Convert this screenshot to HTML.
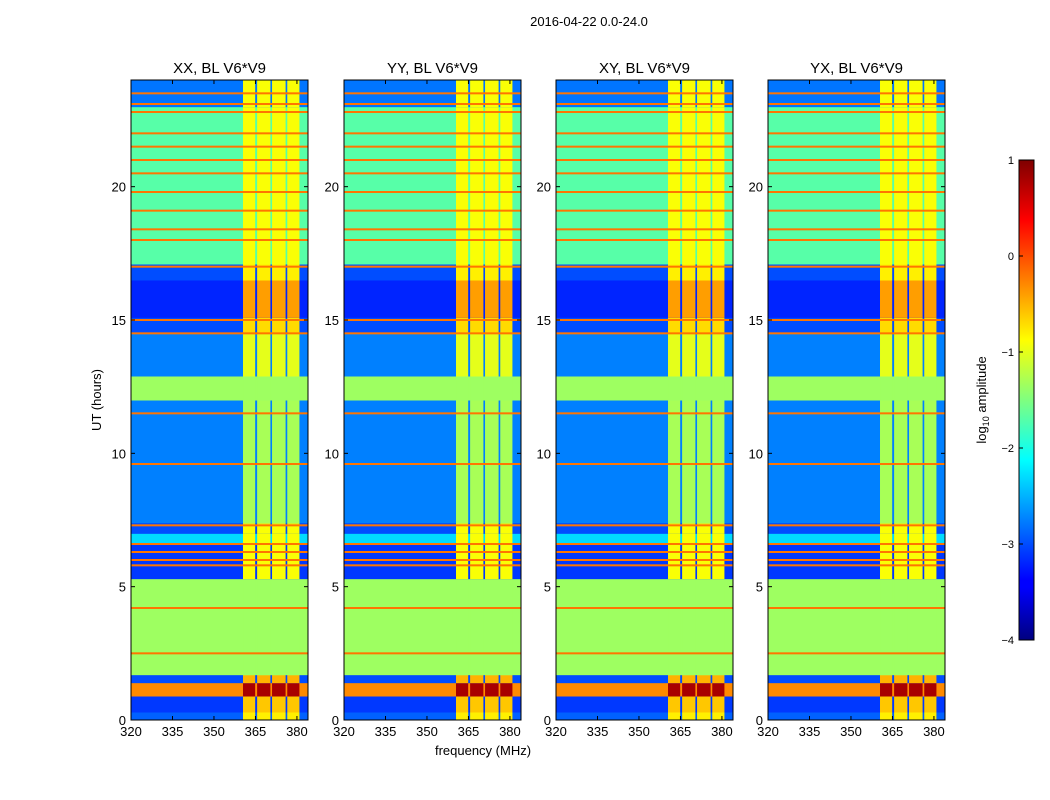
<!DOCTYPE html>
<html><head><meta charset="utf-8"><style>
body{margin:0;background:#fff;width:1050px;height:800px;overflow:hidden}
svg{display:block;font-family:"Liberation Sans",sans-serif}
</style></head><body>
<svg id="fig" width="1050" height="800">
<text x="589" y="26" font-size="13" text-anchor="middle">2016-04-22 0.0-24.0</text>
<text x="483" y="755" font-size="13" text-anchor="middle">frequency (MHz)</text>
<text transform="translate(101,400) rotate(-90)" font-size="13" text-anchor="middle">UT (hours)</text>
<defs><linearGradient id="jetg" x1="0" y1="1" x2="0" y2="0">
<stop offset="0" stop-color="#00007f"/><stop offset="0.11" stop-color="#0000ff"/><stop offset="0.125" stop-color="#0000ff"/>
<stop offset="0.375" stop-color="#00ffff"/><stop offset="0.625" stop-color="#ffff00"/><stop offset="0.875" stop-color="#ff0000"/><stop offset="1" stop-color="#7f0000"/>
</linearGradient></defs>
<g id="cbar">
<rect x="1019" y="160" width="15" height="480" fill="url(#jetg)" stroke="#000"/>
</g>
<text transform="translate(986,400) rotate(-90)" font-size="13" text-anchor="middle">log<tspan font-size="9" dy="3">10</tspan><tspan dy="-3"> amplitude</tspan></text>
</svg>
<script>
const bandStart=[0,0.3,0.9,1.4,1.7,1.8,5.3,6.6,7.0,7.4,12.0,12.9,14.5,15.1,16.5,17.1,23.0];
const bandEnd=[0.3,0.9,1.4,1.7,1.8,5.3,6.6,7.0,7.4,12.0,12.9,14.5,15.1,16.5,17.1,23.0,24];
const bandLevel=[-2.9,-3.1,-0.3,-3.0,-1.35,-1.35,-3.1,-2.3,-3.0,-2.75,-1.35,-2.75,-3.0,-3.2,-3.0,-1.7,-2.8];
const rfiLevel=[-0.8,-0.6,0.8,-0.5,-1.35,-1.35,-0.9,-0.9,-0.9,-1.3,-1.35,-1.0,-0.7,-0.4,-0.8,-0.9,-0.9];
const lineTimes=[2.5,4.2,5.8,6.0,6.3,6.6,7.3,9.6,11.5,14.5,15.0,17.0,18.0,18.4,19.1,19.8,20.5,21.0,21.5,22.0,22.8,23.1,23.5];
const lineLevels=[-0.2,-0.2,-0.2,-0.2,-0.2,-0.2,-0.2,-0.2,-0.2,-0.2,-0.2,-0.2,-0.2,-0.2,-0.2,-0.2,-0.2,-0.2,-0.2,-0.2,-0.2,-0.2,-0.2];
const rfiColStart=[360.5,365.6,371.0,376.5];
const rfiColEnd=[364.9,370.4,375.9,380.9];
const panelTitles=["XX, BL V6*V9","YY, BL V6*V9","XY, BL V6*V9","YX, BL V6*V9"];
const xTicks=[320,335,350,365,380];
const yTicks=[0,5,10,15,20];
const cbTicks=[1,0,-1,-2,-3,-4];
const cbLabels=["1","0","\u22121","\u22122","\u22123","\u22124"];
const panelX=[131,344,556,768];
const PW=177,PT=80,PH=640,FMIN=320,FMAX=384,TMAX=24;
const NS="http://www.w3.org/2000/svg";
const svg=document.getElementById('fig');
function jet(v){let t=(v+4)/5;t=Math.max(0,Math.min(1,t));
 const c=x=>Math.round(255*Math.max(0,Math.min(1,x)));
 const r=c(Math.min(4*t-1.5,-4*t+4.5)),g=c(Math.min(4*t-0.5,-4*t+3.5)),b=c(Math.min(4*t+0.5,-4*t+2.5));
 return `rgb(${r},${g},${b})`;}
function el(tag,a,parent){const e=document.createElementNS(NS,tag);for(const k in a)e.setAttribute(k,a[k]);(parent||svg).appendChild(e);return e;}
const ys=t=>PT+PH-(t/TMAX)*PH;
panelTitles.forEach((title,p)=>{
 const x0=panelX[p];const xs=f=>x0+(f-FMIN)/(FMAX-FMIN)*PW;
 const g=el('g',{});
 
 
 bandStart.forEach((s,i)=>{
  const r=el('rect',{x:x0,y:ys(bandEnd[i]),width:PW,height:ys(s)-ys(bandEnd[i])+0.5,fill:jet(bandLevel[i])},g);
  
  
  rfiColStart.forEach((cs,j)=>{
   const rc=el('rect',{x:xs(cs),y:ys(bandEnd[i]),width:xs(rfiColEnd[j])-xs(cs),height:ys(s)-ys(bandEnd[i])+0.5,fill:jet(rfiLevel[i])},g);
   
   
  });
 });
 lineTimes.forEach((t,i)=>{
  const l=el('rect',{x:x0,y:ys(t)-1,width:PW,height:2,fill:jet(lineLevels[i])},g);
  
  
 });
 el('rect',{x:x0,y:PT,width:PW,height:PH,fill:'none',stroke:'#000','stroke-width':1},g);
 const tt=el('text',{x:x0+PW/2,y:PT-7,'font-size':15,'text-anchor':'middle'},g);tt.textContent=title;
 
 
 xTicks.forEach(f=>{const x=xs(f);
  el('line',{x1:x,x2:x,y1:PT+PH,y2:PT+PH-4,stroke:'#000'},g);
  el('line',{x1:x,x2:x,y1:PT,y2:PT+4,stroke:'#000'},g);
  const t=el('text',{x:x,y:PT+PH+16,'font-size':13,'text-anchor':'middle'},g);t.textContent=f;
  
  });
 yTicks.forEach(v=>{const y=ys(v);
  el('line',{x1:x0,x2:x0+4,y1:y,y2:y,stroke:'#000'},g);
  el('line',{x1:x0+PW,x2:x0+PW-4,y1:y,y2:y,stroke:'#000'},g);
  const t=el('text',{x:x0-5,y:y+5,'font-size':13,'text-anchor':'end'},g);t.textContent=v;
  
  });
});
cbTicks.forEach((v,i)=>{const y=640-(v+4)/5*480;
 const t=el('text',{x:1014,y:y+4,'font-size':11,'text-anchor':'end'});t.textContent=cbLabels[i];
 
 
 el('line',{x1:1019,x2:1023,y1:y,y2:y,stroke:'#000'});
});
</script>
</body></html>
